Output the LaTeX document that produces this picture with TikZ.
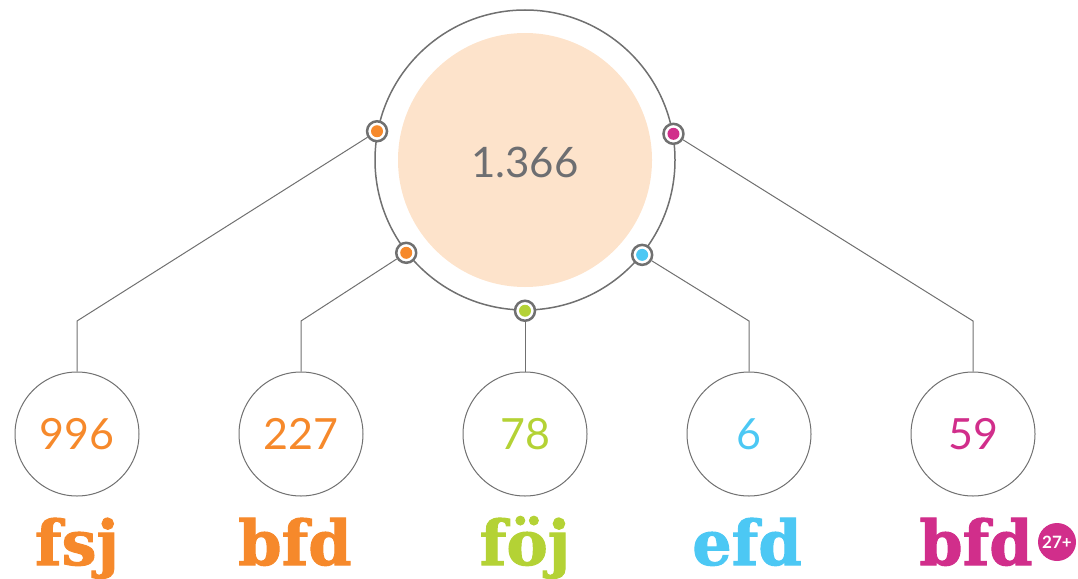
\documentclass[tikz,border=0pt]{standalone}
\usepackage{fontspec}
\setmainfont{Lato}
\newfontfamily\slab{DejaVu Serif}[BoldFeatures={FakeBold=1.6}]
\definecolor{cOr}{HTML}{F6892B}
\definecolor{cGr}{HTML}{B4D235}
\definecolor{cBl}{HTML}{4CC8F4}
\definecolor{cMg}{HTML}{D12E8B}
\definecolor{cGy}{HTML}{707070}
\definecolor{cPeach}{HTML}{FDE3CB}
\definecolor{cTxt}{HTML}{6D6E71}
\tikzset{
  dotnode/.style={circle, fill=white, draw=cGy, line width=2.5pt, minimum size=20pt, inner sep=0pt,
    path picture={\fill[#1] (path picture bounding box.center) circle (6pt);}},
  smallc/.style={circle, draw=cGy, line width=1pt, minimum size=124pt, inner sep=0pt,
    font=\fontsize{43}{43}\selectfont},
  conn/.style={draw=cGy, line width=1pt},
  lbl/.style={anchor=base, inner sep=0pt, font=\slab\bfseries\fontsize{62}{62}\selectfont}
}
\begin{document}
\begin{tikzpicture}[x=1pt,y=-1pt]
\useasboundingbox (0,0) rectangle (1078,578);
\node[circle, fill=cPeach, minimum size=254pt, inner sep=0pt] (inner) at (525,160) {};
\node[text=cTxt, font=\fontsize{42}{42}\selectfont] (total) at (525,162) {1.366};
\node[circle, draw=cGy, line width=1.5pt, minimum size=300pt, inner sep=0pt] (ring) at (525,160) {};

\node[smallc, text=cOr] (n1) at (77,434) {996};
\node[smallc, text=cOr] (n2) at (301,434) {227};
\node[smallc, text=cGr] (n3) at (525,434) {78};
\node[smallc, text=cBl] (n4) at (749,434) {6};
\node[smallc, text=cMg] (n5) at (973,434) {59};

\node[dotnode=cOr] (d1) at (ring.169.7) {};
\node[dotnode=cOr] (d2) at (ring.218.5) {};
\node[dotnode=cGr] (d3) at (ring.-90) {};
\node[dotnode=cBl] (d4) at (ring.-39.5) {};
\node[dotnode=cMg] (d5) at (ring.10.3) {};

\coordinate (k1) at (77,321);
\coordinate (k2) at (301,321);
\coordinate (k4) at (749,321);
\coordinate (k5) at (973,321);

\draw[conn] (d1) -- (k1) -- (n1.north);
\draw[conn] (d2) -- (k2) -- (n2.north);
\draw[conn] (d3) -- (n3.north);
\draw[conn] (d4) -- (k4) -- (n4.north);
\draw[conn] (d5) -- (k5) -- (n5.north);

\node[lbl, text=cOr] (l1) at (77,565) {fsj};
\node[lbl, text=cOr] (l2) at (295,565) {bfd};
\node[lbl, text=cGr] (l3) at (525,565) {föj};
\node[lbl, text=cBl] (l4) at (747,565) {efd};
\node[lbl, text=cMg] (l5) at (976,565) {bfd};
\node[circle, fill=cMg, minimum size=38pt, inner sep=0pt, text=white,
      font=\bfseries\fontsize{17}{17}\selectfont] (badge) at (1057,542) {27+};
\end{tikzpicture}
\end{document}
